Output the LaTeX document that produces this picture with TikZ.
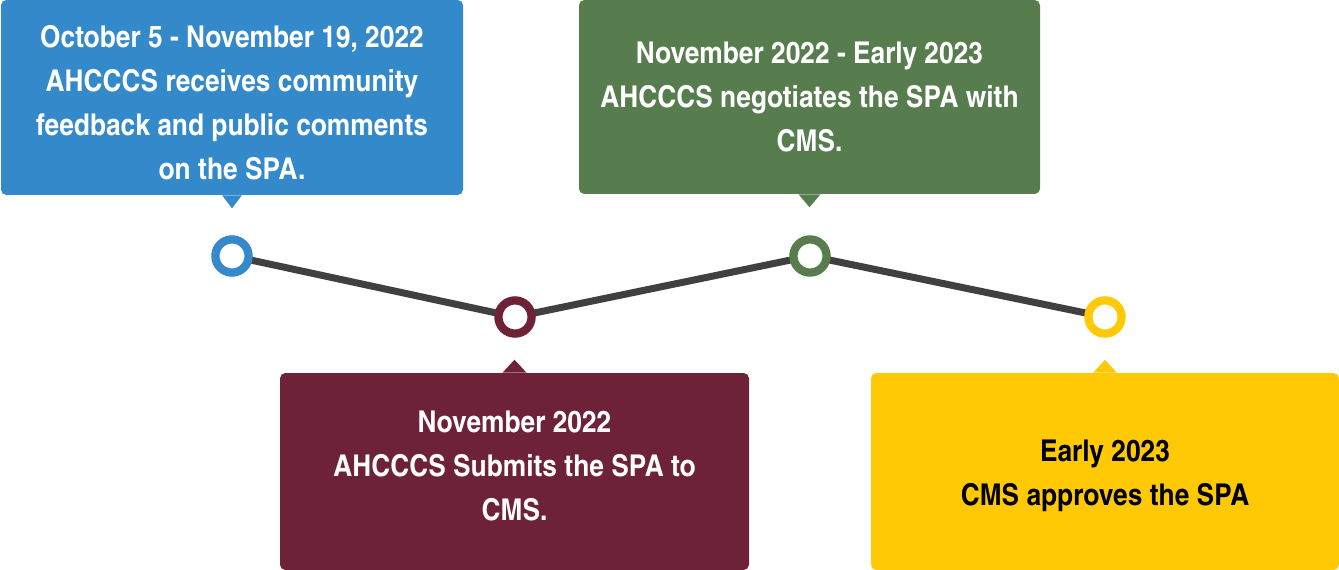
\documentclass[tikz,border=0pt]{standalone}
\usepackage{fontspec}
\setmainfont{texgyreheroscn-bold.otf}[FakeStretch=1.07]
\usetikzlibrary{positioning,calc}

\definecolor{stepblue}{HTML}{3489CA}
\definecolor{stepmaroon}{HTML}{6E2238}
\definecolor{stepgreen}{HTML}{577D4E}
\definecolor{stepgold}{HTML}{FFC905}
\definecolor{linegray}{HTML}{404040}

\begin{document}
\begin{tikzpicture}[x=0.75pt,y=-0.75pt,
  callout/.style={rectangle,rounded corners=4pt,inner sep=0pt,fill=#1},
  caption/.style={align=center,inner sep=0pt,text=white,font=\fontsize{22.5}{33}\selectfont},
  milestone/.style={circle,draw=#1,line width=6.2pt,fill=white,minimum size=24.9pt,inner sep=0pt},
  link/.style={draw=linegray,line width=5.25pt}]
\useasboundingbox (0,0) rectangle (1339,570);

% timeline
\coordinate (p1) at (232,256);
\coordinate (p2) at (515,317);
\coordinate (p3) at (810,256);
\coordinate (p4) at (1105,317);
\draw[link] (p1) -- (p2) -- (p3) -- (p4);
\node[milestone=stepblue] (m1) at (p1) {};
\node[milestone=stepmaroon] (m2) at (p2) {};
\node[milestone=stepgreen] (m3) at (p3) {};
\node[milestone=stepgold] (m4) at (p4) {};

% boxes above
\node[callout=stepblue,minimum width=346.5pt,minimum height=146.25pt] (feedback) at (232,97.5) {};
\fill[stepblue] ($(feedback.south)+(-10,0)$) -- ($(feedback.south)+(0,13)$) -- ($(feedback.south)+(10,0)$) -- cycle;
\node[caption] (feedback text) at ($(feedback.center)+(0,5)$) {October 5 - November 19, 2022\\AHCCCS receives community\\feedback and public comments\\on the SPA.};

\node[callout=stepgreen,minimum width=345.75pt,minimum height=145.5pt] (negotiate) at (809.5,97) {};
\fill[stepgreen] ($(negotiate.south)+(-11,0)$) -- ($(negotiate.south)+(0,13)$) -- ($(negotiate.south)+(11,0)$) -- cycle;
\node[caption] (negotiate text) at (negotiate.center) {November 2022 - Early 2023\\AHCCCS negotiates the SPA with\\CMS.};

% boxes below
\node[callout=stepmaroon,minimum width=351.75pt,minimum height=147.75pt] (submit) at (514.5,471.5) {};
\fill[stepmaroon] ($(submit.north)+(-12,0)$) -- ($(submit.north)+(0,-13)$) -- ($(submit.north)+(12,0)$) -- cycle;
\node[caption] (submit text) at ($(submit.center)+(0,-5)$) {November 2022\\AHCCCS Submits the SPA to\\CMS.};

\node[callout=stepgold,minimum width=351pt,minimum height=147.75pt] (approve) at (1105,471.5) {};
\fill[stepgold] ($(approve.north)+(-12,0)$) -- ($(approve.north)+(0,-13)$) -- ($(approve.north)+(12,0)$) -- cycle;
\node[caption,text=black] (approve text) at ($(approve.center)+(0,4)$) {Early 2023\\CMS approves the SPA};
\end{tikzpicture}
\end{document}
